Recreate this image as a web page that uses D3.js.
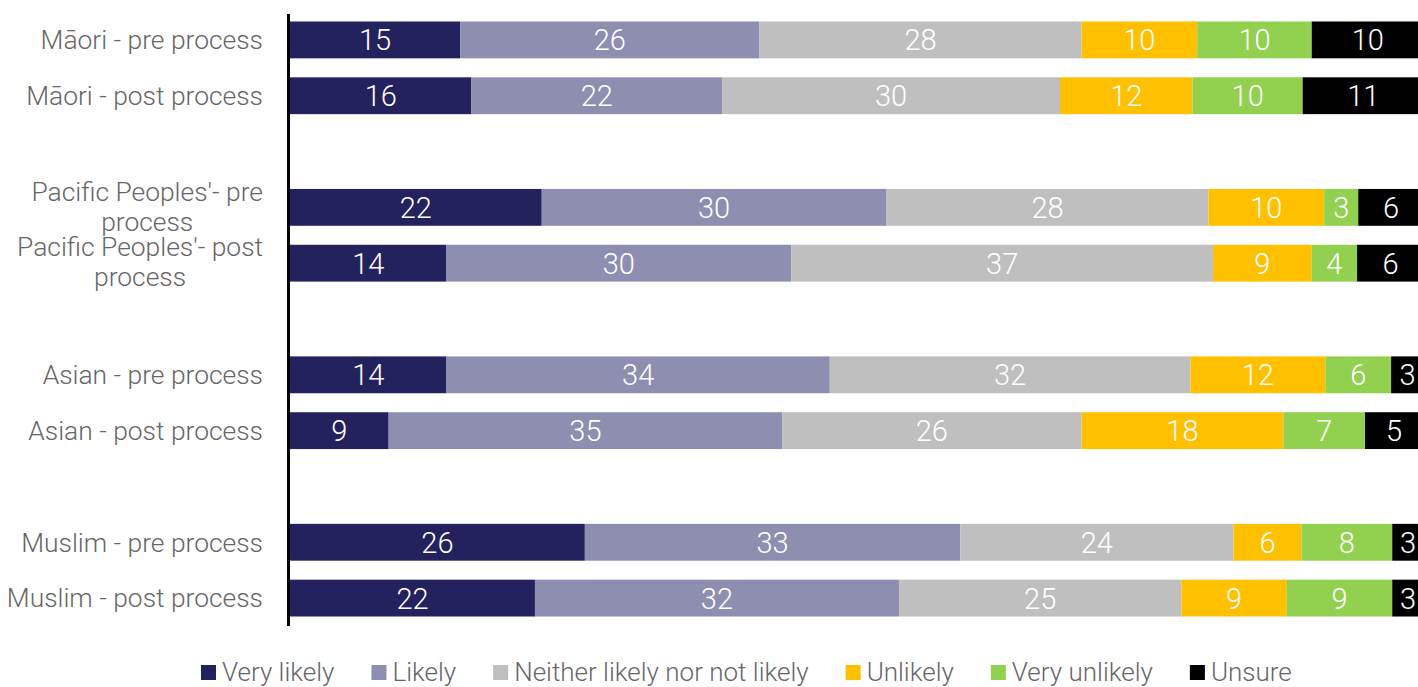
<!DOCTYPE html>
<html>
<head>
<meta charset="utf-8">
<script src="https://cdn.jsdelivr.net/npm/d3@7"></script>
<style>
  body { margin: 0; background: #fff; }
  svg { display: block; font-family: Roboto, "Open Sans", sans-serif; font-weight: 300; }
</style>
</head>
<body>
<div id="chart"></div>
<script>
// Categories (row labels), blank rows separate the groups
var categories = [
    "Māori - pre process", "Māori - post process",
    "Pacific Peoples'- pre process", "Pacific Peoples'- post process",
    "Asian - pre process", "Asian - post process",
    "Muslim - pre process", "Muslim - post process"
];

// Series names
var seriesNames = ["Very likely", "Likely", "Neither likely nor not likely", "Unlikely", "Very unlikely", "Unsure"];

// Series values (percent)
var veryLikely   = [15.0, 16.0, 22.2, 13.8, 13.8, 8.7, 26.0, 21.6];
var likely       = [26.4, 22.1, 30.4, 30.4, 33.8, 34.7, 33.1, 32.1];
var neither      = [28.4, 29.8, 28.4, 37.2, 31.8, 26.4, 24.1, 24.9];
var unlikely     = [10.2, 11.7, 10.2, 8.7, 11.9, 17.8, 6.0, 9.3];
var veryUnlikely = [10.1, 9.7, 3.0, 4.0, 5.8, 7.2, 8.0, 9.3];
var unsure       = [9.9, 10.7, 5.8, 5.9, 2.9, 5.1, 2.8, 2.8];

var colors = ["#24215f", "#8e8eb0", "#bfbfbf", "#ffc000", "#92d050", "#000000"];

// SVG dimensions
var svgWidth = 1418;
var svgHeight = 687;

var svg = d3.select("#chart")
    .append("svg")
    .attr("width", svgWidth)
    .attr("height", svgHeight);

// build table for stacking
var allSeries = [veryLikely, likely, neither, unlikely, veryUnlikely, unsure];
var table = categories.map(function(c, i) {
    var row = { cat: c, slot: i + Math.floor(i / 2) };
    seriesNames.forEach(function(s, j) { row[s] = allSeries[j][i]; });
    return row;
});

var stacked = d3.stack().keys(seriesNames)(table);

var xScale = d3.scaleLinear()
    .domain([0, 100])
    .range([290, 1424]);

var yScale = d3.scaleBand()
    .domain(d3.range(categories.length + 3))
    .range([12, 626])
    .paddingInner(0.34)
    .paddingOuter(0.17);

// bars
var layers = svg.selectAll("g.layer")
    .data(stacked)
    .enter()
    .append("g")
    .attr("class", "layer")
    .attr("fill", (d, i) => colors[i]);

layers.selectAll("rect")
    .data(d => d)
    .enter()
    .append("rect")
    .attr("x", d => xScale(d[0]))
    .attr("y", d => yScale(d.data.slot))
    .attr("width", d => xScale(d[1]) - xScale(d[0]))
    .attr("height", yScale.bandwidth());

// value labels
layers.selectAll("text")
    .data(d => d)
    .enter()
    .append("text")
    .attr("x", d => (xScale(d[0]) + xScale(d[1])) / 2)
    .attr("y", d => yScale(d.data.slot) + yScale.bandwidth() / 2)
    .attr("dy", "0.36em")
    .attr("text-anchor", "middle")
    .attr("fill", "#fff")
    .style("font-size", "29px")
    .text(d => Math.round(d[1] - d[0]));

// category labels (wrap long ones)
var labelRight = 263;
var maxWidth = 262;
table.forEach(function(row) {
    var cy = yScale(row.slot) + yScale.bandwidth() / 2;
    var t = svg.append("text")
        .attr("fill", "#666")
        .style("font-size", "26.4px")
        .attr("text-anchor", "end")
        .attr("x", labelRight)
        .attr("y", cy)
        .attr("dy", "0.35em")
        .text(row.cat);
    if (t.node().getComputedTextLength() > maxWidth) {
        var words = row.cat.split(" ");
        var last = words.pop();
        t.text(words.join(" ")).attr("y", cy - 16);
        var w1 = t.node().getComputedTextLength();
        svg.append("text")
            .attr("fill", "#666")
            .style("font-size", "26.4px")
            .attr("text-anchor", "middle")
            .attr("x", labelRight - w1 / 2)
            .attr("y", cy + 14)
            .attr("dy", "0.35em")
            .text(last);
    }
});

// vertical axis line
svg.append("line")
    .attr("x1", 288.5).attr("x2", 288.5)
    .attr("y1", 14).attr("y2", 626)
    .attr("stroke", "#000")
    .attr("stroke-width", 3);

// legend
var legend = svg.append("g");
var lx = 201;
seriesNames.forEach(function(s, i) {
    legend.append("rect")
        .attr("x", lx).attr("y", 665)
        .attr("width", 15).attr("height", 15)
        .attr("fill", colors[i]);
    var lt = legend.append("text")
        .attr("x", lx + 21).attr("y", 681)
        .attr("fill", "#666")
        .style("font-size", "26px")
        .text(s);
    lx += 21 + lt.node().getComputedTextLength() + 37;
});
</script>
</body>
</html>
